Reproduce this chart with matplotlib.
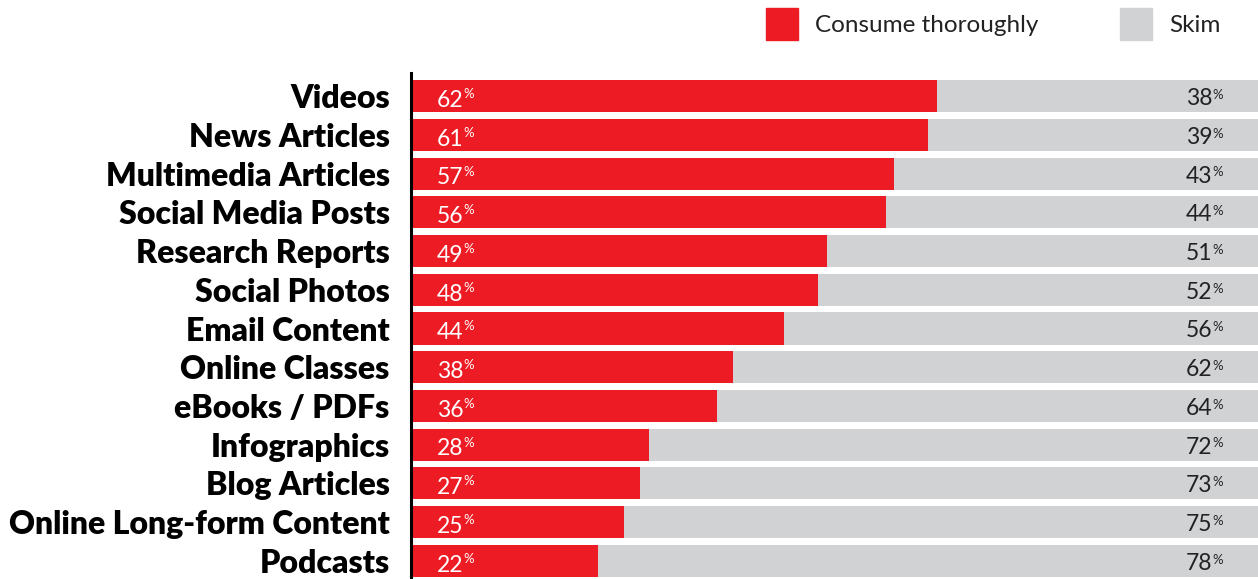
import matplotlib
matplotlib.use("Agg")
import matplotlib.pyplot as plt
from matplotlib.patches import Rectangle

categories = [
    "Videos", "News Articles", "Multimedia Articles", "Social Media Posts",
    "Research Reports", "Social Photos", "Email Content", "Online Classes",
    "eBooks / PDFs", "Infographics", "Blog Articles",
    "Online Long-form Content", "Podcasts",
]
consume = [62, 61, 57, 56, 49, 48, 44, 38, 36, 28, 27, 25, 22]
skim = [38, 39, 43, 44, 51, 52, 56, 62, 64, 72, 73, 75, 78]
series_names = ["Consume thoroughly", "Skim"]

RED = "#ED1C24"
GRAY = "#D1D2D4"
FONT = "Lato"

W, H = 1258, 579
fig = plt.figure(figsize=(W / 100, H / 100), dpi=100)
ax = fig.add_axes([412 / W, 0, 1 - 412 / W, 1 - 73 / H])

y = list(range(len(categories)))
ax.barh(y, consume, height=0.83, color=RED, left=0)
ax.barh(y, skim, height=0.83, color=GRAY, left=consume)

ax.set_xlim(0, 100)
ax.set_ylim(12.47, -0.6)
for s in ["top", "right", "bottom"]:
    ax.spines[s].set_visible(False)
ax.spines["left"].set_linewidth(2.2)
ax.spines["left"].set_color("black")
ax.spines["left"].set_position(("outward", 1))
ax.set_xticks([])
ax.set_yticks(y)
ax.set_yticklabels(categories, fontfamily=FONT, fontweight="heavy",
                   fontsize=23, color="black")
ax.tick_params(axis="y", length=0, pad=15)

for i, (c, s) in enumerate(zip(consume, skim)):
    # value inside red bar, percent sign as superscript
    t = ax.text(2.95, i + 0.11, f"{c}", ha="left", va="center",
                fontfamily=FONT, fontweight="normal", fontsize=16.5, color="white")
    ax.annotate("%", xy=(1.0, 0.8), xycoords=t, ha="left", va="center",
                fontfamily=FONT, fontweight="normal", fontsize=9.5, color="white")
    # value at the right end of the gray bar
    p = ax.text(95.85, i - 0.03, "%", ha="right", va="center",
                fontfamily=FONT, fontweight="normal", fontsize=9.5, color="#222222")
    ax.annotate(f"{s}", xy=(0.0, 0.2), xycoords=p, ha="right", va="center",
                fontfamily=FONT, fontweight="normal", fontsize=16.5, color="#222222")

# legend
fig.patches.append(Rectangle((766 / W, 1 - 40 / H), 32 / W, 32 / H,
                             transform=fig.transFigure, color=RED))
fig.text(815 / W, 1 - 25 / H, series_names[0], ha="left", va="center",
         fontfamily=FONT, fontsize=17.5, color="#222222")
fig.patches.append(Rectangle((1120 / W, 1 - 40 / H), 32 / W, 32 / H,
                             transform=fig.transFigure, color=GRAY))
fig.text(1169 / W, 1 - 25 / H, series_names[1], ha="left", va="center",
         fontfamily=FONT, fontsize=17.5, color="#222222")

fig.savefig("out.png", dpi=100)
